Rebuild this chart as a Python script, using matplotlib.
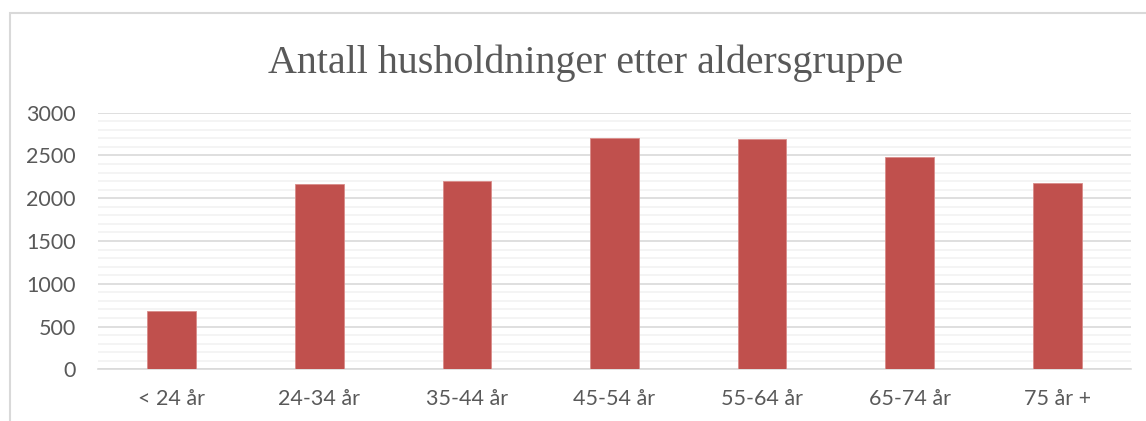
import matplotlib
matplotlib.use("Agg")
import matplotlib.pyplot as plt
from matplotlib.patches import Rectangle
from matplotlib.ticker import MultipleLocator

categories = ["< 24 år", "24-34 år", "35-44 år", "45-54 år", "55-64 år", "65-74 år", "75 år +"]
values = [680, 2165, 2205, 2705, 2698, 2478, 2175]
yticks = [0, 500, 1000, 1500, 2000, 2500, 3000]
title = "Antall husholdninger etter aldersgruppe"

W, H = 1146, 421
fig = plt.figure(figsize=(W / 100, H / 100), dpi=100)
fig.patch.set_facecolor("white")

# chart frame
fig.add_artist(Rectangle((10 / W, -0.1), 1.2, (H - 13) / H + 0.1, transform=fig.transFigure,
                         fill=False, edgecolor="#d9d9d9", linewidth=1.5))

ax = fig.add_axes([98 / W, (H - 369.3) / H, (1131 - 98) / W, (369.3 - 112.7) / H])
x = range(len(categories))
ax.bar(x, values, width=0.33, color="#c0504d", edgecolor="#d98c8a", linewidth=0.6, zorder=3)
ax.set_xlim(-0.5, len(categories) - 0.5)
ax.set_ylim(0, 3000)
ax.set_yticks(yticks)
ax.yaxis.set_minor_locator(MultipleLocator(100))
ax.grid(which="major", axis="y", color="#d9d9d9", linewidth=1.2, zorder=1)
ax.grid(which="minor", axis="y", color="#f2f2f2", linewidth=1.2, zorder=0)
ax.set_xticks(list(x))
ax.set_xticklabels(categories)
for s in ["top", "right", "left"]:
    ax.spines[s].set_visible(False)
ax.spines["bottom"].set_color("#d9d9d9")
ax.spines["bottom"].set_linewidth(1.2)
ax.tick_params(axis="both", which="both", length=0, colors="#595959", labelsize=15.5)
ax.tick_params(axis="y", pad=16)
ax.tick_params(axis="x", pad=14)
for lab in ax.get_xticklabels() + ax.get_yticklabels():
    lab.set_family("Lato")

fig.text(586 / W, 1 - 63 / H, title, family="Liberation Serif", fontsize=28.8,
         color="#595959", ha="center", va="center")

fig.savefig("out.png", dpi=100)
